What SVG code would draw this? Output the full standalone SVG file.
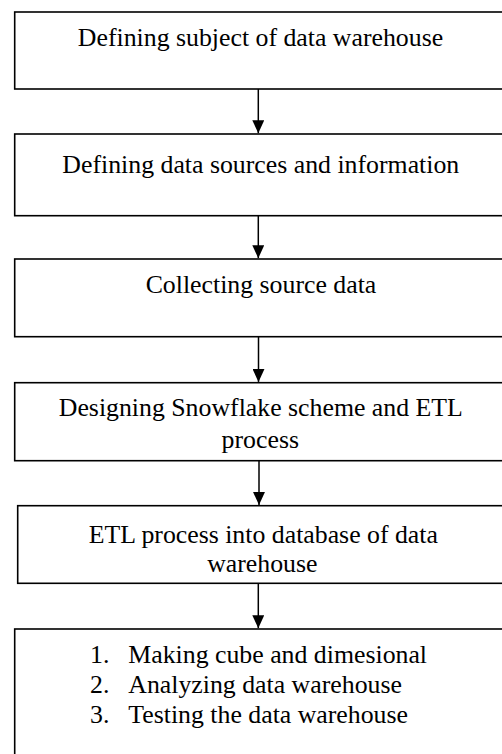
<svg xmlns="http://www.w3.org/2000/svg" width="502" height="754" viewBox="0 0 502 754">
<style>
.box{fill:#fff;stroke:#000;stroke-width:1.6}
.t{font-family:"Liberation Serif","Times New Roman",serif;font-size:25.8px;fill:#000}
.c{text-anchor:middle}
.ln{stroke:#000;stroke-width:1.5;fill:none}
</style>
<defs>
<marker id="ah" markerUnits="userSpaceOnUse" markerWidth="14" markerHeight="12" refX="13" refY="6" orient="auto" viewBox="0 0 14 12">
<path d="M0,0 L13,6 L0,12 Z" fill="#000"/>
</marker>
</defs>
<rect width="502" height="754" fill="#fff"/>
<g id="n1">
<rect class="box" x="14.7" y="12" width="500" height="77"/>
<text class="t c" x="260.5" y="46">Defining subject of data warehouse</text>
</g>
<g id="n2">
<rect class="box" x="14.7" y="134" width="500" height="81.7"/>
<text class="t c" x="260.8" y="172.8">Defining data sources and information</text>
</g>
<g id="n3">
<rect class="box" x="14.7" y="259" width="500" height="77.7"/>
<text class="t c" x="261" y="292.8">Collecting source data</text>
</g>
<g id="n4">
<rect class="box" x="14.7" y="382.7" width="500" height="78"/>
<text class="t c" x="260.8" y="416.2">Designing Snowflake scheme and ETL</text>
<text class="t c" x="260.3" y="447.5">process</text>
</g>
<g id="n5">
<rect class="box" x="17.7" y="505.7" width="500" height="77.6"/>
<text class="t c" x="263.3" y="542.8">ETL process into database of data</text>
<text class="t c" x="262.3" y="572">warehouse</text>
</g>
<g id="n6">
<rect class="box" x="14.7" y="629" width="500" height="140"/>
<text class="t" x="90" y="663">1.</text>
<text class="t" x="128.3" y="663">Making cube and dimesional</text>
<text class="t" x="90" y="693">2.</text>
<text class="t" x="128.3" y="693">Analyzing data warehouse</text>
<text class="t" x="90" y="723">3.</text>
<text class="t" x="128.3" y="723">Testing the data warehouse</text>
</g>
<g id="connectors">
<line class="ln" x1="258.3" y1="89" x2="258.3" y2="133.2" marker-end="url(#ah)"/>
<line class="ln" x1="258.3" y1="215.7" x2="258.3" y2="258.2" marker-end="url(#ah)"/>
<line class="ln" x1="258.5" y1="336.7" x2="258.5" y2="381.9" marker-end="url(#ah)"/>
<line class="ln" x1="259" y1="460.7" x2="259" y2="504.9" marker-end="url(#ah)"/>
<line class="ln" x1="258.3" y1="583.3" x2="258.3" y2="628.2" marker-end="url(#ah)"/>
</g>
</svg>
